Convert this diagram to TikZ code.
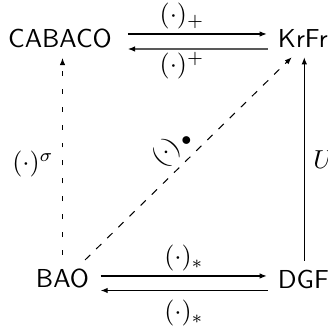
\documentclass[tikz,border=0pt]{standalone}
\usetikzlibrary{arrows.meta}
\begin{document}
\begin{tikzpicture}[x=0.385pt,y=-0.385pt,
  obj/.style={inner sep=0pt,outer sep=0pt,font=\sffamily},
  lbl/.style={inner sep=0pt,outer sep=0pt},
  arr/.style={line width=0.4pt,-{Latex[length=2.7pt,width=2.1pt]}},
  vdash/.style={dash pattern=on 1.9pt off 5pt},
  ddash/.style={dash pattern=on 2.8pt off 3.2pt}]
\useasboundingbox (0,0) rectangle (328,327);
\clip (0,0) rectangle (328,327);
% objects
\node[obj,anchor=base] (cab) at (60,47.5) {CABACO};
\node[obj,anchor=base west] (krfr) at (278,48) {KrFr};
\node[obj,anchor=base] (bao) at (62.5,288) {BAO};
\node[obj,anchor=base west] (dgf) at (278,288.3) {DGF};
% top pair
\draw[arr] ([shift={(68,-13.5)}]cab.base) -- ([shift={(-11.3,-14)}]krfr.base west);
\draw[arr] ([shift={(-10,1)}]krfr.base west) -- ([shift={(68,1.5)}]cab.base);
% bottom pair
\draw[arr] ([shift={(38.2,-12)}]bao.base) -- ([shift={(-11.3,-12.3)}]dgf.base west);
\draw[arr] ([shift={(-10,2.2)}]dgf.base west) -- ([shift={(38.2,2.5)}]bao.base);
% verticals
\draw[arr,vdash] ([shift={(0,-33)}]bao.base) -- ([shift={(2.5,10.5)}]cab.base);
\draw[arr] ([shift={(26.3,-27.6)}]dgf.base west) -- ([shift={(26.3,9.3)}]krfr.base west);
% diagonal
\draw[arr,ddash] ([shift={(22.5,-28)}]bao.base) -- ([shift={(13.7,9.3)}]krfr.base west);
% labels
\node[lbl,anchor=base] (lp) at (182,23) {$(\cdot)_+$};
\node[lbl,anchor=base] (lq) at (182,73) {$(\cdot)^+$};
\node[lbl,anchor=base] (ls) at (184,265) {$(\cdot)_*$};
\node[lbl,anchor=base] (lt) at (184,320) {$(\cdot)_*$};
\node[lbl,anchor=base] (lsig) at (33,170.7) {$(\cdot)^\sigma$};
\node[lbl,anchor=base west] (lu) at (313.5,169) {$U$};
\node[lbl,rotate=45] (ld) at (171.7,147.6) {$(\cdot)\kern1.5pt\raisebox{-1.2pt}{$\scriptstyle\bullet$}$};
\end{tikzpicture}
\end{document}
